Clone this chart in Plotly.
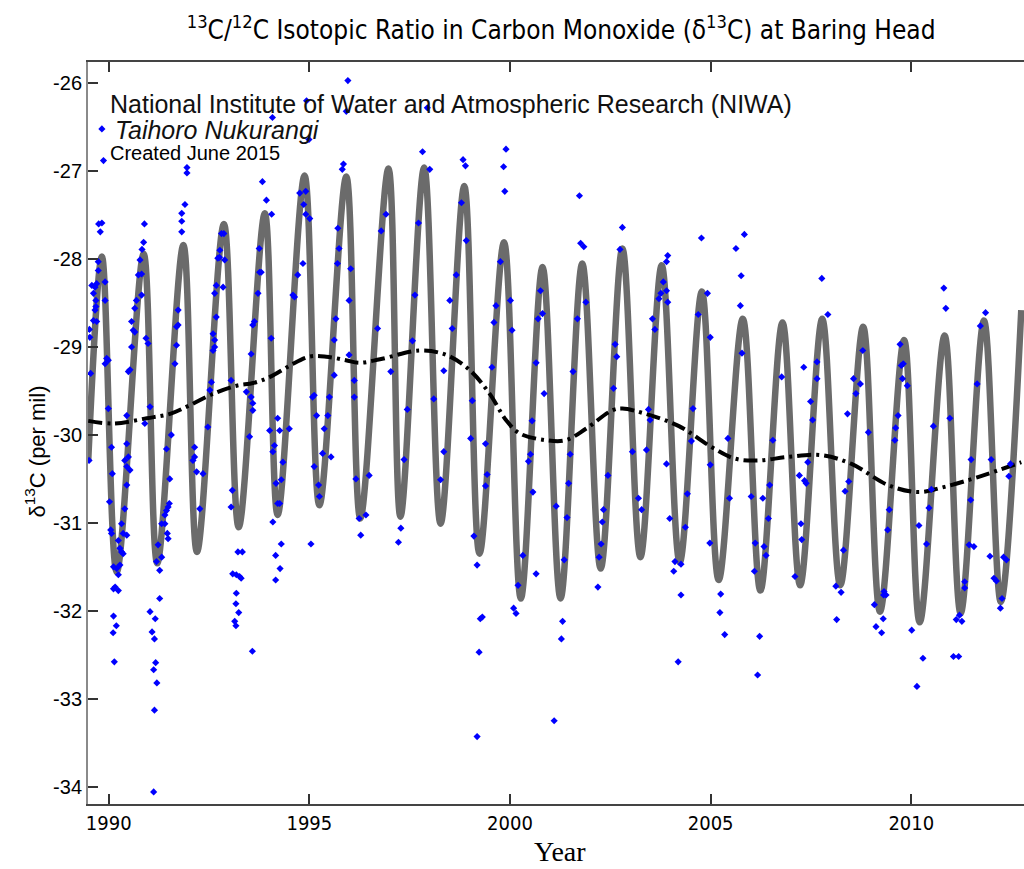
import plotly.graph_objects as go

# Seasonal fit: alternating turning points (decimal year, per mil)
fit_year = [1989.49, 1989.83, 1990.20, 1990.87, 1991.21, 1991.86, 1992.20, 1992.87,
            1993.24, 1993.89, 1994.21, 1994.88, 1995.25, 1995.92, 1996.27, 1996.97,
            1997.27, 1997.86, 1998.27, 1998.86, 1999.24, 1999.85, 2000.27, 2000.81,
            2001.26, 2001.80, 2002.26, 2002.80, 2003.25, 2003.78, 2004.23, 2004.78,
            2005.20, 2005.80, 2006.24, 2006.79, 2007.23, 2007.78, 2008.23, 2008.80,
            2009.22, 2009.82, 2010.21, 2010.83, 2011.23, 2011.81, 2012.23, 2012.74]
fit_d13c = [-30.29, -27.97, -31.56, -27.94, -31.46, -27.84, -31.33, -27.60,
            -31.05, -27.48, -30.91, -27.05, -30.80, -27.06, -30.95, -26.97,
            -30.93, -26.96, -31.01, -27.17, -31.35, -27.81, -31.86, -28.09,
            -31.86, -28.05, -31.52, -27.88, -31.39, -28.07, -31.45, -28.37,
            -31.65, -28.68, -31.77, -28.72, -31.71, -28.68, -31.71, -28.77,
            -32.01, -28.92, -32.13, -28.87, -32.03, -28.70, -31.90, -28.58]

# Deseasonalised trend
trend_year = [1989.49, 1990.12, 1990.95, 1991.53, 1992.03, 1992.61, 1993.19, 1993.60,
              1994.02, 1994.52, 1995.00, 1995.42, 1995.91, 1996.24, 1996.76, 1997.75,
              1998.41, 1998.99, 1999.49, 1999.90, 2000.23, 2000.89, 2001.39, 2001.89,
              2002.55, 2002.80, 2003.38, 2004.21, 2005.03, 2005.61, 2006.19, 2006.93,
              2007.76, 2008.51, 2009.42, 2010.17, 2010.83, 2011.66, 2012.74]
trend_d13c = [-29.84, -29.87, -29.81, -29.76, -29.66, -29.53, -29.44, -29.41,
              -29.34, -29.21, -29.11, -29.11, -29.15, -29.18, -29.14, -29.04,
              -29.09, -29.26, -29.53, -29.83, -29.98, -30.06, -30.06, -29.93,
              -29.72, -29.70, -29.76, -29.90, -30.14, -30.27, -30.29, -30.25,
              -30.23, -30.33, -30.57, -30.65, -30.59, -30.48, -30.31]

# Flask samples
obs_year = [
    1989.51, 1989.52, 1989.53, 1989.55, 1989.58, 1989.62, 1989.66, 1989.70, 1989.74, 1989.66,
    1989.62, 1989.70, 1989.68, 1989.74, 1989.68, 1989.91, 1989.91, 1989.95, 1989.99, 1989.91,
    1989.99, 1990.07, 1990.09, 1990.02, 1990.05, 1990.07, 1990.12, 1990.20, 1990.24, 1990.28,
    1990.32, 1990.28, 1990.36, 1990.24, 1990.32, 1990.36, 1990.45, 1990.40, 1990.45, 1990.45,
    1990.49, 1990.40, 1990.45, 1990.53, 1990.12, 1990.16, 1990.24, 1990.45, 1990.53, 1990.49,
    1990.57, 1990.61, 1990.65, 1990.57, 1990.69, 1990.65, 1990.82, 1990.78, 1990.82, 1990.74,
    1990.93, 1990.98, 1990.90, 1991.03, 1991.23, 1991.19, 1991.27, 1991.32, 1991.27, 1991.32,
    1991.40, 1991.40, 1991.44, 1991.48, 1991.51, 1991.46, 1991.48, 1991.52, 1991.44, 1991.56,
    1991.65, 1991.69, 1991.73, 1991.69, 1991.73, 1992.14, 1992.14, 1992.10, 1992.19, 1992.27,
    1992.35, 1992.47, 1992.52, 1992.56, 1992.60, 1992.64, 1992.60, 1992.64, 1992.68, 1992.64,
    1992.68, 1992.72, 1992.76, 1992.85, 1992.89, 1993.05, 1993.43, 1993.51, 1993.55, 1993.59,
    1993.59, 1993.63, 1993.59, 1993.55, 1993.72, 1993.76, 1993.80, 1993.08, 1993.05, 1993.09,
    1993.18, 1993.26, 1993.30, 1993.22, 1993.33, 1993.18, 1994.01, 1994.05, 1994.09, 1994.13,
    1994.17, 1994.21, 1994.26, 1994.30, 1994.34, 1994.21, 1994.26, 1994.50, 1994.30, 1994.16,
    1994.27, 1994.16, 1994.09, 1995.04, 1994.63, 1994.71, 1994.84, 1994.59, 1995.08, 1995.12,
    1995.18, 1995.12, 1995.23, 1995.25, 1995.33, 1995.37, 1995.46, 1995.50, 1995.54, 1995.62,
    1995.62, 1995.66, 1995.70, 1995.99, 1996.03, 1995.99, 1996.12, 1996.12, 1996.16, 1996.24,
    1996.28, 1996.41, 1996.49, 1996.70,
    1997.03, 1997.44, 1997.36, 1997.28, 1997.22, 1997.57, 1997.63, 1998.66, 1998.50, 1998.56,
    1998.35, 1998.10, 1998.35, 1998.27, 1999.06, 1999.02, 1999.39, 1999.43, 1999.39, 1999.10,
    1999.18, 1999.55, 1999.60, 1999.65, 1999.76, 2000.01, 2000.05, 2000.32, 2000.20, 2000.65,
    2000.57, 2000.51, 2000.55, 2000.46, 2000.65, 2000.70, 2000.76, 2000.81, 2000.85, 2001.15,
    2001.42, 2001.35, 2001.46, 2001.50, 2001.57, 2001.68, 2001.89, 2002.19, 2002.22, 2002.27,
    2002.30, 2002.33, 2002.44, 2002.58, 2002.62, 2002.66, 2003.05, 2003.20, 2003.28, 2003.40,
    2003.45, 2003.49, 2003.55, 2003.61, 2003.71, 2003.76, 2003.82, 2003.90, 2003.93, 2003.90,
    2003.93, 2003.90, 2003.98, 2004.11, 2004.08,
    2004.26, 2004.26, 2004.37, 2004.42, 2004.52, 2004.56, 2004.69, 2004.92, 2004.99, 2004.99,
    2004.98, 2005.25, 2005.43, 2005.47, 2005.76, 2005.74, 2005.78, 2006.01, 2006.09, 2006.11,
    2006.30, 2006.33, 2006.38, 2006.44, 2006.47, 2006.55, 2006.77, 2007.10, 2007.21, 2007.25,
    2007.27, 2007.34, 2007.38, 2007.32, 2007.49, 2007.54, 2007.42, 2007.65, 2007.65, 2007.77,
    2007.92, 2008.12, 2008.25, 2008.31, 2008.35, 2008.44, 2008.41, 2008.56, 2008.62, 2008.73,
    2008.79, 2008.93, 2009.32, 2009.37, 2009.31, 2009.41, 2009.45, 2009.59, 2009.61, 2009.67,
    2009.72, 2009.75, 2009.80, 2009.78, 2009.90, 2010.19, 2010.38, 2010.44, 2010.50, 2010.55,
    2010.81, 2010.86, 2010.96, 2011.33, 2011.33, 2011.44, 2011.56, 2011.48, 2011.49, 2011.64,
    2011.72, 2011.85, 2011.96, 2011.99, 2012.06, 2012.12, 2012.26, 2012.30, 2012.37, 2012.43,
    2012.47,
    1989.83, 1989.87, 1989.75, 1989.83, 1989.79, 1990.89, 1990.87, 1990.83, 1991.95, 1991.95,
    1991.90, 1991.82, 1991.82, 1991.82, 1992.81, 1992.87, 1992.77, 1993.83, 1993.93, 1994.06,
    1993.75, 1994.08, 1994.93, 1994.99, 1994.76, 1994.91, 1994.86, 1994.91, 1995.01, 1995.96,
    1995.92, 1995.85, 1995.82, 1995.71, 1995.74, 1996.79, 1996.91,
    1997.94, 1997.82, 1998.00, 1997.72, 1998.83, 1998.89, 1998.79, 1998.91, 1999.90, 1999.84,
    1999.87, 2001.73, 2001.76, 2001.84, 2002.80, 2002.74, 2004.77, 2005.84, 2005.63,
    1990.12, 1990.19, 1990.11, 1990.14, 1991.03, 1991.16, 1991.08, 1991.14, 1991.17, 1991.12,
    1991.20, 1991.14, 1991.12, 1993.17, 1993.24, 1993.14, 1993.17, 1993.58,
    1999.26, 1999.31, 2000.09, 2000.15, 2001.31, 2001.28, 1999.23, 2001.10, 1999.18, 2004.19,
    2005.23, 2005.35, 2006.22, 2006.17, 2008.14, 2009.08, 2009.30, 2009.12, 2009.26, 2010.01,
    2010.29, 2010.14, 2011.12, 2011.20, 2011.26, 2011.05, 2011.18, 2012.22,
]
obs_d13c = [
    -30.29, -28.80, -28.89, -29.30, -28.30, -28.39, -28.32, -28.28, -28.03, -28.58,
    -28.70, -28.71, -28.54, -28.13, -28.47, -28.47, -29.19, -29.13, -29.15, -28.26,
    -29.70, -30.14, -30.44, -30.76, -31.08, -31.12, -31.50, -31.52, -31.59, -31.48,
    -31.33, -31.29, -31.35, -31.20, -31.01, -31.12, -31.14, -30.84, -30.57, -30.36,
    -30.25, -30.29, -30.10, -30.40, -31.75, -31.73, -31.77, -29.78, -29.26, -29.28,
    -29.00, -28.81, -28.83, -28.71, -28.47, -28.56, -28.41, -28.01, -28.17, -28.18,
    -28.90, -28.96, -29.87, -29.68, -31.25, -31.44, -31.54, -31.39, -31.86, -31.01,
    -31.01, -30.91, -30.86, -30.82, -30.78, -31.12, -31.18, -30.50, -30.16, -30.00,
    -29.19, -28.98, -28.58, -28.77, -28.75, -30.14, -30.25, -30.29, -30.42, -30.84,
    -30.44, -29.91, -29.49, -29.40, -29.04, -29.00, -28.85, -28.92, -28.66, -28.39,
    -28.30, -27.99, -27.98, -28.32, -28.01, -29.38, -29.51, -30.02, -29.57, -29.64,
    -29.72, -28.71, -28.75, -29.08, -28.39, -28.15, -28.15, -30.63, -30.82, -31.58,
    -31.59, -31.61, -31.63, -31.33, -31.33, -31.80, -29.95, -28.90, -30.19, -30.12,
    -30.55, -30.78, -30.78, -30.51, -30.31, -29.81, -29.95, -29.93, -31.24, -31.37,
    -31.52, -31.65, -30.99, -31.24, -28.43, -28.18, -28.05, -28.41, -29.57, -29.55,
    -29.78, -30.36, -30.57, -30.70, -30.21, -29.93, -29.78, -29.57, -30.25, -29.32,
    -28.92, -28.68, -28.05, -28.47, -28.11, -29.09, -29.38, -29.57, -30.50, -30.95,
    -31.14, -30.91, -30.46, -28.79,
    -29.28, -29.71, -30.28, -31.06, -31.22, -28.93, -28.41, -28.18, -28.47, -28.79,
    -29.27, -29.59, -30.19, -30.51, -29.61, -30.04, -30.10, -30.45, -30.58, -31.15,
    -31.48, -29.23, -28.72, -28.53, -28.03, -28.47, -28.81, -31.37, -31.71, -31.58,
    -30.65, -30.22, -29.84, -30.30, -29.18, -28.68, -28.36, -28.62, -29.53, -30.81,
    -30.94, -31.42, -30.55, -30.22, -29.28, -28.68, -28.49, -31.73, -31.39, -31.24,
    -30.99, -30.85, -30.46, -29.47, -28.97, -29.11, -30.19, -30.72, -30.85, -30.17,
    -29.71, -29.83, -28.68, -28.80, -28.45, -28.39, -28.26, -28.36, -28.49, -28.03,
    -27.96, -30.33, -30.95, -31.44, -31.55,
    -31.47, -31.82, -31.05, -30.67, -30.07, -29.70, -28.63, -28.39, -28.89, -30.34,
    -31.23, -31.81, -30.04, -30.72, -28.19, -28.53, -29.07, -30.70, -31.55, -31.23,
    -30.72, -31.27, -31.37, -30.95, -30.57, -30.06, -29.34, -31.61, -30.46, -31.01,
    -31.19, -30.52, -30.55, -29.23, -29.62, -29.83, -30.31, -29.36, -29.17, -28.22,
    -28.63, -31.72, -31.79, -31.31, -30.64, -30.53, -29.76, -29.36, -29.53, -29.42,
    -29.04, -29.97, -31.78, -31.82, -31.82, -31.08, -30.85, -30.06, -29.92, -29.78,
    -28.97, -29.21, -29.19, -29.36, -29.44, -31.03, -31.24, -30.83, -30.62, -29.90,
    -28.33, -28.56, -29.81, -31.67, -31.74, -31.25, -31.27, -30.74, -30.28, -29.42,
    -28.76, -28.61, -31.38, -30.28, -31.63, -31.66, -31.86, -31.39, -31.42, -30.47,
    -30.33,
    -26.52, -26.88, -27.60, -27.59, -27.69, -27.60, -27.81, -27.89, -26.96, -27.02,
    -27.38, -27.48, -27.57, -27.69, -27.71, -27.71, -27.90, -27.12, -27.33, -27.49,
    -27.88, -26.39, -26.20, -26.64, -27.25, -27.23, -27.38, -27.49, -27.54, -25.97,
    -26.32, -26.92, -26.98, -27.65, -27.88, -27.68, -27.49,
    -26.28, -26.78, -26.98, -27.59, -26.87, -26.94, -27.36, -27.79, -26.75, -26.95,
    -27.23, -27.28, -27.82, -27.86, -27.64, -27.89, -27.76, -27.72, -27.88,
    -32.06, -32.17, -32.25, -32.58, -32.01, -32.09, -32.24, -32.32, -32.59, -32.67,
    -32.82, -33.13, -34.06, -31.92, -32.02, -32.12, -32.17, -32.46,
    -32.09, -32.07, -31.97, -32.03, -32.12, -32.32, -32.47, -33.25, -33.43, -32.58,
    -32.02, -32.27, -32.29, -32.73, -32.10, -31.93, -32.09, -32.18, -32.25, -32.22,
    -32.54, -32.86, -32.10, -32.05, -32.12, -32.52, -32.52, -31.97,
]

x_ticks = [1990, 1995, 2000, 2005, 2010]
y_ticks = [-26, -27, -28, -29, -30, -31, -32, -33, -34]
y_tick_text = ["-26", "-27", "-28", "-29", "-30", "-31", "-32", "-33", "-34"]

SANS = "Liberation Sans, Arial, Helvetica, sans-serif"
NARROW = "Liberation Sans Narrow, Arial Narrow, DejaVu Sans Condensed, sans-serif"

fig = go.Figure()

fig.add_trace(go.Scatter(
    x=fit_year, y=fit_d13c, mode="lines",
    line=dict(color="#6b6b6b", width=6.5, shape="spline", smoothing=1.0),
    hoverinfo="skip", showlegend=False,
))
fig.add_trace(go.Scatter(
    x=trend_year, y=trend_d13c, mode="lines",
    line=dict(color="black", width=4, shape="spline", smoothing=1.0,
              dash="14px,5px,3px,5px"),
    hoverinfo="skip", showlegend=False,
))
fig.add_trace(go.Scatter(
    x=obs_year, y=obs_d13c, mode="markers",
    marker=dict(symbol="diamond", size=5.5, color="#0000ff", line=dict(width=0)),
    showlegend=False,
))

fig.update_layout(
    width=1024, height=869,
    margin=dict(l=88, r=0, t=62, b=65),
    paper_bgcolor="white", plot_bgcolor="white",
    title=dict(
        text="<sup>13</sup>C/<sup>12</sup>C Isotopic Ratio in Carbon Monoxide "
             "(\u03b4<sup>13</sup>C) at Baring Head",
        x=0.548, xanchor="center", xref="container",
        y=0.966, yanchor="middle", yref="container",
        font=dict(family=NARROW, size=26, color="black"),
    ),
    xaxis=dict(
        range=[1989.484, 2012.808], tickvals=x_ticks,
        ticks="inside", ticklen=10, tickwidth=1.5, tickcolor="#333",
        showline=True, linecolor="#444", linewidth=2, mirror="ticks",
        showgrid=False, zeroline=False,
        tickfont=dict(family=NARROW, size=20, color="black"),
    ),
    yaxis=dict(
        range=[-34.197, -25.759], tickvals=y_ticks, ticktext=y_tick_text,
        ticks="inside", ticklen=10, tickwidth=1.5, tickcolor="#333",
        showline=True, linecolor="#8a8a8a", linewidth=2,
        showgrid=False, zeroline=False,
        tickfont=dict(family=SANS, size=20, color="black"),
    ),
    annotations=[
        dict(text="National Institute of Water and Atmospheric Research (NIWA)",
             x=0.0214, y=0.9434, xref="paper", yref="paper",
             xanchor="left", yanchor="middle", showarrow=False,
             font=dict(family=SANS, size=25, color="#111")),
        dict(text="<i>Taihoro Nukurangi</i>",
             x=0.0267, y=0.9084, xref="paper", yref="paper",
             xanchor="left", yanchor="middle", showarrow=False,
             font=dict(family=SANS, size=25, color="#111")),
        dict(text="Created June 2015",
             x=0.0214, y=0.8774, xref="paper", yref="paper",
             xanchor="left", yanchor="middle", showarrow=False,
             font=dict(family=SANS, size=20, color="black")),
        dict(text="\u03b4<sup>13</sup>C (per mil)",
             x=-0.0566, y=0.475, xref="paper", yref="paper",
             xanchor="center", yanchor="middle", textangle=-90, showarrow=False,
             font=dict(family=SANS, size=22, color="black")),
        dict(text="Year",
             x=0.5043, y=-0.064, xref="paper", yref="paper",
             xanchor="center", yanchor="middle", showarrow=False,
             font=dict(family="Liberation Serif, Times New Roman, serif",
                       size=28, color="black")),
    ],
)

fig.write_html("out.html")
